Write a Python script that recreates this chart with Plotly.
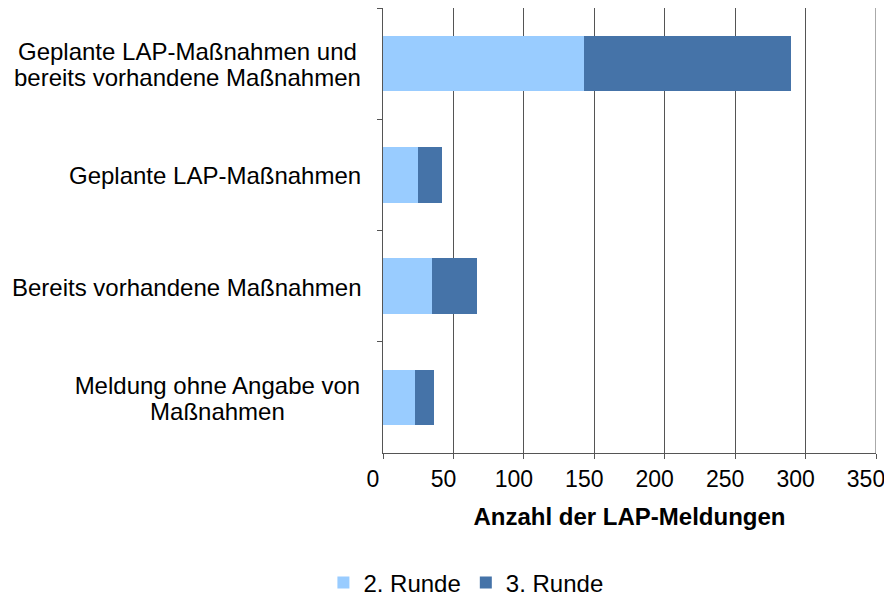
import plotly.graph_objects as go

categories = [
    "Geplante LAP-Maßnahmen und<br>bereits vorhandene Maßnahmen",
    "Geplante LAP-Maßnahmen",
    "Bereits vorhandene Maßnahmen",
    "Meldung ohne Angabe von<br>Maßnahmen",
]
runde2 = [143, 25, 35, 23]
runde3 = [147, 17, 32, 13]
series_names = ["2. Runde", "3. Runde"]
colors = ["#99CCFF", "#4573A8"]
x_ticks = [0, 50, 100, 150, 200, 250, 300, 350]

FONT = "Liberation Sans, Arial, sans-serif"
FS = 24
AX = "#555"

fig = go.Figure()
for name, vals, col in zip(series_names, [runde2, runde3], colors):
    fig.add_trace(go.Bar(
        y=categories, x=vals, name=name, orientation="h",
        marker=dict(color=col, line=dict(width=0)),
    ))

# approximate pixel width of a text line in Liberation Sans (Arial metrics)
W = {c: 556 for c in "0123456789abdeghnopqu"}
W.update({"c": 500, "k": 500, "s": 500, "v": 500, "x": 500, "y": 500, "z": 500,
          "f": 278, "i": 222, "j": 222, "l": 222, "t": 278, "r": 333, "m": 833, "w": 722,
          "ß": 611, " ": 278, "-": 333, ".": 278,
          "A": 667, "B": 667, "G": 778, "L": 556, "M": 833, "P": 667})


def text_width(s, size):
    return sum(W.get(ch, 600) for ch in s) / 1000 * size


# category labels: right-aligned blocks with centred lines and tight line spacing
LINE_GAP = 25.5
for cat in categories:
    lines = cat.split("<br>")
    n = len(lines)
    block_w = max(text_width(ln, FS) for ln in lines) + 2
    for i, ln in enumerate(lines):
        fig.add_annotation(text=ln, xref="paper", yref="y", x=0, y=cat,
                           xanchor="right", yanchor="middle", xshift=-19,
                           yshift=((n - 1) / 2 - i) * LINE_GAP - 1,
                           width=block_w, align="center", showarrow=False,
                           font=dict(family=FONT, size=FS, color="#000"))

fig.update_layout(
    width=884, height=589,
    margin=dict(l=375, r=16, t=0, b=144),
    paper_bgcolor="white", plot_bgcolor="white",
    barmode="stack", bargap=0.5,
    font=dict(family=FONT, size=FS, color="#000"),
    xaxis=dict(
        range=[0, 350], tickvals=x_ticks, ticktext=[str(v) for v in x_ticks],
        showgrid=True, gridcolor=AX, gridwidth=1,
        showline=True, linecolor=AX, linewidth=1, mirror=False,
        ticks="outside", ticklen=5, tickcolor=AX,
        zeroline=False,
        ticklabeloverflow="allow", ticklabelshift=-10,
        tickfont=dict(family=FONT, size=23, color="#000"),
        title=dict(text="<b>Anzahl der LAP-Meldungen</b>", standoff=17,
                   font=dict(family=FONT, size=FS, color="#000")),
    ),
    yaxis=dict(
        type="category", autorange="reversed",
        tickson="boundaries", ticks="outside", ticklen=5, tickcolor=AX,
        showticklabels=False, showgrid=False,
        showline=True, linecolor=AX, linewidth=1,
    ),
    legend=dict(
        orientation="h", xref="container", yref="container",
        x=0.518, y=0.024, xanchor="center", yanchor="middle",
        traceorder="normal",
        font=dict(family=FONT, size=FS, color="#000"),
        itemwidth=30,
    ),
    showlegend=True,
)
# right border of the plot at 350 (gridline at the range edge)
fig.add_shape(type="line", xref="x", yref="paper", x0=x_ticks[-1], x1=x_ticks[-1],
              y0=0, y1=1, line=dict(color=AX, width=1), layer="below")

fig.write_html("out.html")
